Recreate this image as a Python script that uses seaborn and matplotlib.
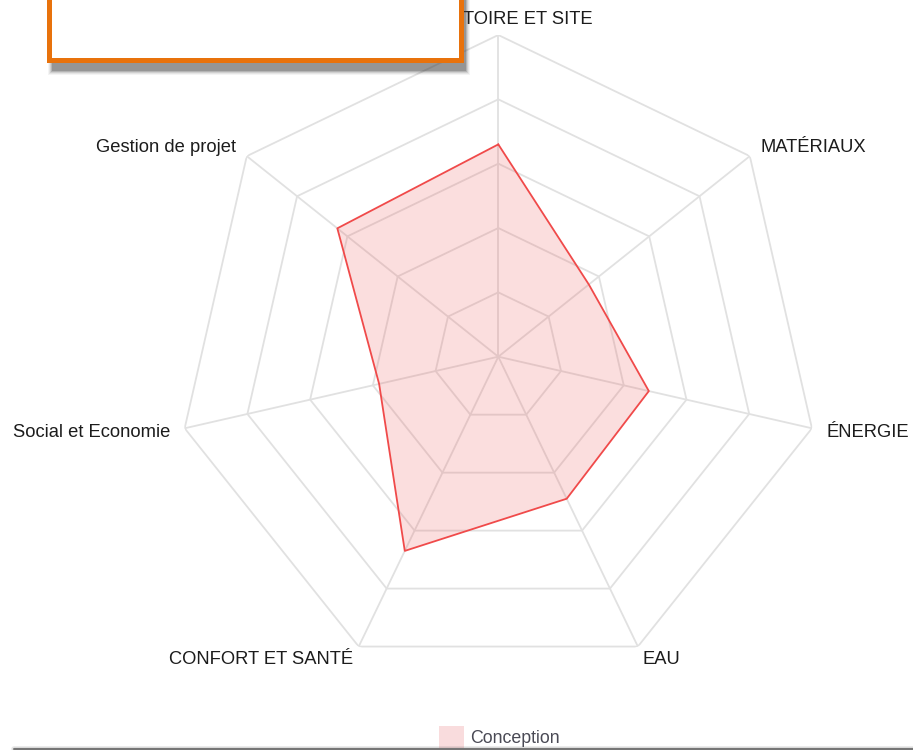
import numpy as np
import pandas as pd
import matplotlib
matplotlib.use("Agg")
import matplotlib.pyplot as plt
from matplotlib.patches import Rectangle, Patch
from matplotlib.lines import Line2D
import seaborn as sns

# Axes of the radar, clockwise from the top
categories = ["TERRITOIRE ET SITE", "MATÉRIAUX", "ÉNERGIE", "EAU",
              "CONFORT ET SANTÉ", "Social et Economie", "Gestion de projet"]
# Scores (0-100) for the "Conception" phase
conception = [66, 36, 48, 49, 67, 38, 64]
series_name = "Conception"
ring_levels = [20, 40, 60, 80, 100]

sns.set_theme(style="white")
plt.rcParams["font.family"] = ["Liberation Sans", "DejaVu Sans"]

W, H = 913, 750
fig = plt.figure(figsize=(W / 100, H / 100), dpi=100)
fig.patch.set_facecolor("white")

def fx(px):
    return px / W

def fy(py):
    return 1 - py / H

# polar area: center (498.3, 356.7) px, radius 321.7 px
cx, cy, R = 498.3, 356.7, 321.7
ax = fig.add_axes([fx(cx - R), fy(cy + R), 2 * R / W, 2 * R / H], projection="polar")
ax.set_theta_offset(np.pi / 2)
ax.set_theta_direction(-1)
ax.set_ylim(0, 100)
ax.grid(False)
ax.set_xticks([])
ax.set_yticks([])
ax.spines["polar"].set_visible(False)
ax.patch.set_alpha(0)

n = len(categories)
theta = np.linspace(0, 2 * np.pi, n, endpoint=False)
theta_closed = np.append(theta, 2 * np.pi)

grid_color = "#e1e1e1"
for lvl in ring_levels:
    ax.plot(theta_closed, [lvl] * (n + 1), color=grid_color, lw=1.3, zorder=1)
for t in theta:
    ax.plot([t, t], [0, ring_levels[-1]], color=grid_color, lw=1.3, zorder=1)

vals_closed = np.append(conception, conception[0])
df = pd.DataFrame({"theta": theta_closed, "score": vals_closed})
ax.fill(df["theta"], df["score"], color="#ee5a5a", alpha=0.2, lw=0, zorder=2)
sns.lineplot(data=df, x="theta", y="score", sort=False, ax=ax,
             color="#f04a4a", lw=1.3, legend=False, zorder=3)
ax.set_xlabel("")
ax.set_ylabel("")

# category labels around the outer ring (offsets in pixels)
label_pos = [((2, 16), "center"), ((11, 9), "left"), ((15, -4), "left"),
             ((5, -13), "left"), ((-6, -13), "right"), ((-14, -4), "right"),
             ((-11, 9), "right")]
for t, name, (off, ha) in zip(theta, categories, label_pos):
    ax.annotate(name, xy=(t, 100), xytext=off, textcoords="offset pixels",
                ha=ha, va="center", fontsize=13.2, color="#1c1c1c",
                annotation_clip=False, zorder=4)

# legend
leg = fig.legend(handles=[Patch(facecolor="#f9dcdd", edgecolor="none")],
                 labels=[series_name], loc="center",
                 bbox_to_anchor=(fx(499), fy(737)), frameon=False,
                 handlelength=1.4, handleheight=1.5, handletextpad=0.35,
                 fontsize=12.8)
for txt in leg.get_texts():
    txt.set_color("#4a4a55")

# panel box at the top left, with its soft shadow
for i, a in enumerate([0.05, 0.08, 0.12, 0.18, 0.25]):
    g = 4 - i
    fig.patches.append(Rectangle((fx(52 - g), fy(71 + g)), (414 + 2 * g) / W,
                                 (90 + g) / H, transform=fig.transFigure,
                                 facecolor="#3a3a3a", edgecolor="none",
                                 alpha=a, zorder=8))
fig.patches.append(Rectangle((fx(49.2), fy(59.5)), (460.8 - 49.2) / W,
                             80 / H, transform=fig.transFigure,
                             facecolor="white", edgecolor="#e8720c",
                             lw=3.6, zorder=9))

# bottom frame edge
for i, (a, lw) in enumerate([(0.15, 4), (0.3, 2.5), (0.8, 1.2)]):
    fig.add_artist(Line2D([fx(14), 1], [fy(748.5), fy(748.5)],
                          transform=fig.transFigure, color="#555555",
                          alpha=a, lw=lw, zorder=8))

fig.savefig("out.png", dpi=100, facecolor="white")
